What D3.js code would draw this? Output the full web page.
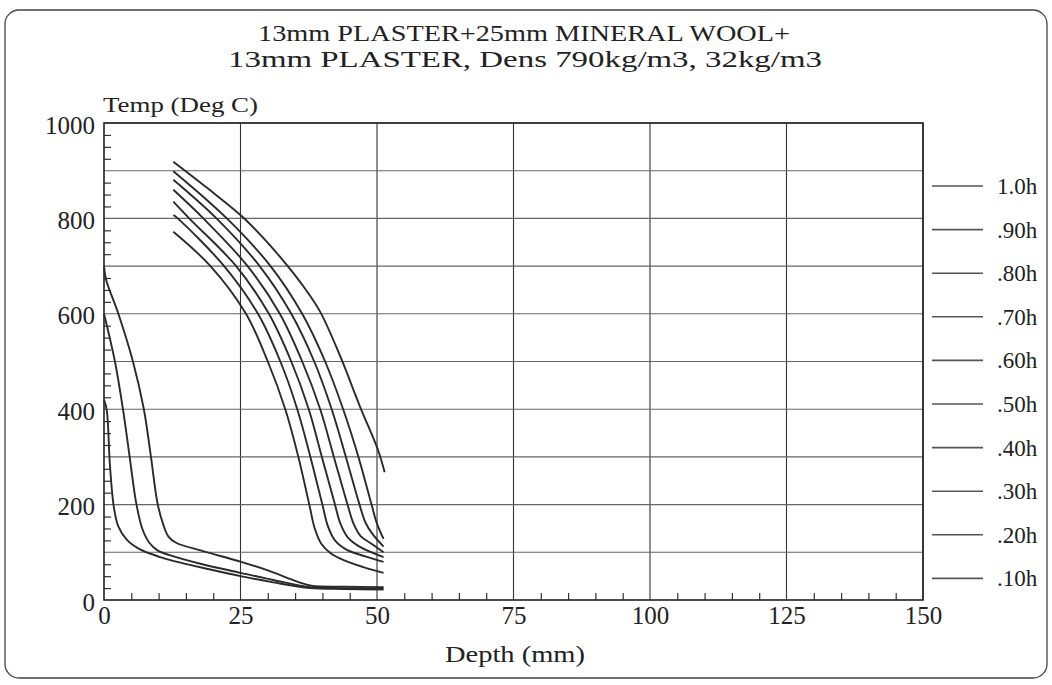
<!DOCTYPE html>
<html>
<head>
<meta charset="utf-8">
<script src="https://cdn.jsdelivr.net/npm/d3@7"></script>
<style>
  html, body { margin: 0; padding: 0; background: #fff; }
  svg text { font-family: "Liberation Serif", "DejaVu Serif", serif; fill: #222; }
</style>
</head>
<body>
<svg id="chart" width="1052" height="685"></svg>
<script>
// ---- data ----
const titleLines = ["13mm PLASTER+25mm MINERAL WOOL+", "13mm PLASTER, Dens 790kg/m3, 32kg/m3"];
const yAxisTitle = "Temp (Deg C)";
const xAxisTitle = "Depth (mm)";
const xTicks = [0, 25, 50, 75, 100, 125, 150];
const yTicks = [0, 200, 400, 600, 800, 1000];
const legendLabels = ["1.0h", ".90h", ".80h", ".70h", ".60h", ".50h", ".40h", ".30h", ".20h", ".10h"];

// depth (mm), temperature (deg C)
const s10 = [[0,420],[0.5,398],[1.1,280],[1.8,195],[2.6,155],[4.2,126],[6.6,106],[10.3,90],[13,81],[19,65],[25,50],[31,37],[37.7,25],[44,23],[51.2,22]];
const s20 = [[0,600],[2.0,500],[3.5,398],[4.7,300],[5.9,203],[7.0,150],[8.3,120],[9.8,104],[12,94],[18,75],[25,57],[31,42],[37.7,27],[44,25],[51.2,24]];
const s30 = [[0,700],[0.4,671],[2.6,601],[5.3,500],[7.3,400],[8.6,300],[9.8,203],[10.8,160],[11.8,133],[13.2,120],[18,103],[25.1,80],[30,62],[35.5,38],[38,30],[44,28],[51.2,27]];
const s40 = [[12.7,772],[19.5,700],[26.0,600],[30.0,500],[33.2,400],[35.6,300],[37.6,200],[38.6,150],[39.8,118],[41.5,98],[44,83],[47.5,69],[51.2,57]];
const s50 = [[12.7,807],[13.5,800],[22.0,700],[28.2,600],[32.3,500],[35.4,400],[37.8,300],[40.0,200],[41.0,155],[42.3,125],[44.5,105],[48,91],[51.2,80]];
const s60 = [[12.7,835],[15.6,800],[24.2,700],[30.2,600],[34.3,500],[37.5,400],[39.9,300],[42.3,200],[43.3,160],[44.6,132],[46.8,112],[51.2,90]];
const s70 = [[12.7,860],[18.2,800],[26.3,700],[32.2,600],[36.3,500],[39.6,400],[42.1,300],[44.6,200],[45.7,160],[47.0,134],[49,118],[51.2,100]];
const s80 = [[12.7,881],[20.6,800],[28.5,700],[34.3,600],[38.5,500],[41.7,400],[44.3,300],[46.8,200],[47.9,162],[49.2,138],[51.2,112]];
const s90 = [[12.7,899],[22.5,800],[30.5,700],[36.3,600],[40.5,500],[43.8,400],[46.6,300],[49.0,200],[50.0,160],[51.2,128]];
const s100 = [[12.7,919],[19,863],[25.2,805],[29.5,755],[33.5,702],[36.8,653],[39.6,604],[43.3,510],[46.9,405],[50.2,314],[51.4,268]];

const seriesList = [s100, s90, s80, s70, s60, s50, s40, s30, s20, s10];

// ---- drawing ----
const svg = d3.select("#chart");
const x = d3.scaleLinear().domain([0, 150]).range([104, 923]);
const y = d3.scaleLinear().domain([0, 1000]).range([600, 123]);

// outer rounded frame
svg.append("rect")
  .attr("x", 5).attr("y", 10).attr("width", 1042).attr("height", 668)
  .attr("rx", 14).attr("ry", 14)
  .attr("fill", "none").attr("stroke", "#444").attr("stroke-width", 1.3);

// title
svg.append("text").attr("x", 524).attr("y", 41).attr("text-anchor", "middle")
  .attr("font-size", 23).attr("textLength", 532).attr("lengthAdjust", "spacingAndGlyphs")
  .text(titleLines[0]);
svg.append("text").attr("x", 525).attr("y", 67).attr("text-anchor", "middle")
  .attr("font-size", 23).attr("textLength", 594).attr("lengthAdjust", "spacingAndGlyphs")
  .text(titleLines[1]);

// grid lines
const grid = svg.append("g");
grid.selectAll("line.v").data(d3.range(25, 151, 25)).join("line")
  .attr("x1", d => x(d)).attr("x2", d => x(d)).attr("y1", y(0)).attr("y2", y(1000))
  .attr("stroke", "#333").attr("stroke-width", 1.1);
grid.selectAll("line.h").data(d3.range(100, 1001, 100)).join("line")
  .attr("x1", x(0)).attr("x2", x(150)).attr("y1", d => y(d)).attr("y2", d => y(d))
  .attr("stroke", "#666").attr("stroke-width", 1.1);

// minor ticks (inward)
svg.append("g").attr("transform", `translate(0,${y(0)})`)
  .call(d3.axisBottom(x).tickValues(d3.range(5, 150, 5).filter(v => v % 25 !== 0)).tickSize(-7).tickFormat(""))
  .call(g => g.select(".domain").remove())
  .call(g => g.selectAll("line").attr("stroke", "#333").attr("stroke-width", 1.2));
svg.append("g").attr("transform", `translate(${x(0)},0)`)
  .call(d3.axisLeft(y).tickValues(d3.range(25, 1000, 25).filter(v => v % 100 !== 0)).tickSize(-7).tickFormat(""))
  .call(g => g.select(".domain").remove())
  .call(g => g.selectAll("line").attr("stroke", "#333").attr("stroke-width", 1.2));

// axes frame
svg.append("rect").attr("x", x(0)).attr("y", y(1000))
  .attr("width", x(150) - x(0)).attr("height", y(0) - y(1000))
  .attr("fill", "none").attr("stroke", "#222").attr("stroke-width", 1.6);

// tick labels
const xAx = svg.append("g").attr("transform", `translate(0,${y(0)})`)
  .call(d3.axisBottom(x).tickValues(xTicks).tickSize(0).tickPadding(6).tickFormat(d3.format("d")));
xAx.select(".domain").remove();
xAx.selectAll("text").attr("font-size", 25).attr("dy", "0.71em")
  .style("font-family", '"Liberation Serif", serif').attr("fill", "#222");

const yAx = svg.append("g").attr("transform", `translate(${x(0)},0)`)
  .call(d3.axisLeft(y).tickValues(yTicks).tickSize(0).tickPadding(9).tickFormat(d3.format("d")));
yAx.select(".domain").remove();
yAx.selectAll("text").attr("font-size", 25).attr("dy", "0.4em")
  .style("font-family", '"Liberation Serif", serif').attr("fill", "#222");

// axis titles
svg.append("text").attr("x", 103).attr("y", 112).attr("font-size", 22)
  .attr("textLength", 155).attr("lengthAdjust", "spacingAndGlyphs").text(yAxisTitle);
svg.append("text").attr("x", 515).attr("y", 662).attr("text-anchor", "middle").attr("font-size", 23)
  .attr("textLength", 140).attr("lengthAdjust", "spacingAndGlyphs").text(xAxisTitle);

// curves
const line = d3.line().x(d => x(d[0])).y(d => y(d[1])).curve(d3.curveCatmullRom.alpha(0.5));
svg.append("g").selectAll("path").data(seriesList).join("path")
  .attr("d", line)
  .attr("fill", "none").attr("stroke", "#2a2a2a").attr("stroke-width", 1.9)
  .attr("stroke-linejoin", "round");

// legend
const leg = svg.append("g").selectAll("g").data(legendLabels).join("g")
  .attr("transform", (d, i) => `translate(0,${186 + i * 43.6})`);
leg.append("line").attr("x1", 932).attr("x2", 983).attr("y1", 0).attr("y2", 0)
  .attr("stroke", "#555").attr("stroke-width", 1.6);
leg.append("text").attr("x", 997).attr("y", 0).attr("dy", "0.35em").attr("font-size", 23)
  .text(d => d);
</script>
</body>
</html>
